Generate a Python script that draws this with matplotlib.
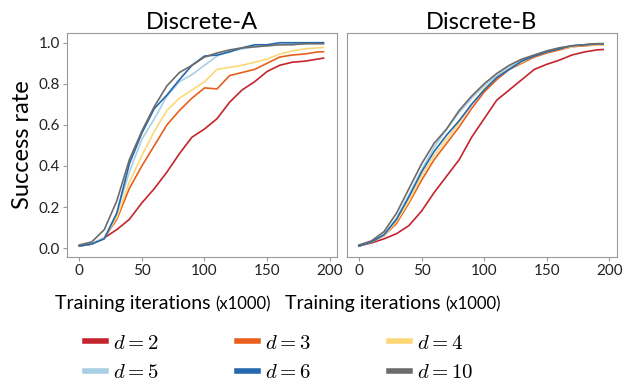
import matplotlib
matplotlib.use("Agg")
import matplotlib.pyplot as plt
from matplotlib.lines import Line2D

plt.rcParams['font.family'] = ['Lato', 'DejaVu Sans']
plt.rcParams['mathtext.fontset'] = 'cm'

iters = [0, 10, 20, 30, 40, 50, 60, 70, 80, 90, 100, 110, 120, 130, 140, 150, 160, 170, 180, 190, 195]
labels = ['$d=2$', '$d=3$', '$d=4$', '$d=5$', '$d=6$', '$d=10$']
colors = ['#c4242c', '#e8601c', '#fdd877', '#a9cfe5', '#2468ad', '#6b6b6b']

# Discrete-A
a_d2 = [0.01, 0.02, 0.05, 0.09, 0.14, 0.22, 0.29, 0.37, 0.46, 0.54, 0.58, 0.63, 0.71, 0.77, 0.81, 0.86, 0.89, 0.905, 0.91, 0.92, 0.925]
a_d3 = [0.01, 0.02, 0.05, 0.14, 0.29, 0.40, 0.50, 0.60, 0.67, 0.73, 0.78, 0.775, 0.84, 0.855, 0.87, 0.90, 0.93, 0.94, 0.945, 0.955, 0.956]
a_d4 = [0.01, 0.02, 0.05, 0.15, 0.32, 0.45, 0.57, 0.67, 0.73, 0.77, 0.81, 0.87, 0.88, 0.89, 0.905, 0.92, 0.945, 0.96, 0.97, 0.975, 0.977]
a_d5 = [0.01, 0.02, 0.05, 0.17, 0.37, 0.53, 0.63, 0.74, 0.81, 0.845, 0.89, 0.935, 0.96, 0.97, 0.98, 0.985, 0.99, 0.995, 0.995, 1.0, 1.0]
a_d6 = [0.01, 0.02, 0.045, 0.17, 0.41, 0.56, 0.68, 0.745, 0.82, 0.89, 0.935, 0.94, 0.955, 0.975, 0.99, 0.99, 1.0, 1.0, 1.0, 1.0, 1.0]
a_d10 = [0.015, 0.03, 0.09, 0.23, 0.43, 0.57, 0.69, 0.79, 0.855, 0.89, 0.93, 0.95, 0.965, 0.975, 0.98, 0.985, 0.99, 0.99, 0.995, 0.995, 0.995]

# Discrete-B
b_d2 = [0.01, 0.025, 0.045, 0.07, 0.11, 0.18, 0.27, 0.35, 0.43, 0.54, 0.63, 0.72, 0.77, 0.82, 0.87, 0.895, 0.915, 0.94, 0.955, 0.965, 0.967]
b_d3 = [0.01, 0.03, 0.06, 0.12, 0.22, 0.33, 0.43, 0.51, 0.59, 0.68, 0.76, 0.82, 0.87, 0.90, 0.93, 0.95, 0.965, 0.98, 0.985, 0.99, 0.99]
b_d4 = [0.01, 0.03, 0.06, 0.13, 0.23, 0.35, 0.45, 0.53, 0.61, 0.70, 0.775, 0.83, 0.875, 0.905, 0.935, 0.955, 0.97, 0.98, 0.99, 0.99, 0.99]
b_d5 = [0.01, 0.03, 0.065, 0.145, 0.26, 0.38, 0.49, 0.58, 0.66, 0.73, 0.79, 0.84, 0.88, 0.915, 0.94, 0.96, 0.975, 0.985, 0.99, 0.995, 0.995]
b_d6 = [0.01, 0.03, 0.065, 0.14, 0.25, 0.37, 0.47, 0.55, 0.62, 0.70, 0.77, 0.83, 0.87, 0.91, 0.935, 0.955, 0.97, 0.985, 0.99, 0.995, 0.995]
b_d10 = [0.015, 0.035, 0.08, 0.17, 0.29, 0.41, 0.51, 0.58, 0.67, 0.74, 0.80, 0.85, 0.89, 0.92, 0.94, 0.96, 0.975, 0.985, 0.99, 0.995, 0.995]

panels = [('Discrete-A', [a_d2, a_d3, a_d4, a_d5, a_d6, a_d10]),
          ('Discrete-B', [b_d2, b_d3, b_d4, b_d5, b_d6, b_d10])]

fig = plt.figure(figsize=(6.4, 3.89), dpi=100)
ax1 = fig.add_axes([0.105, 0.339, 0.422, 0.576])
ax2 = fig.add_axes([0.542, 0.339, 0.422, 0.576])

for ax, (title, series) in zip([ax1, ax2], panels):
    for ys, c in zip(series, colors):
        ax.plot(iters, ys, color=c, lw=1.2)
    ax.set_xlim(-9.6, 206)
    ax.set_ylim(-0.044, 1.047)
    ax.set_xticks([0, 50, 100, 150, 200])
    ax.set_title(title, fontsize=17, pad=3)
    for sp in ax.spines.values():
        sp.set_color('#9a9a9a')
    ax.tick_params(colors='#9a9a9a', labelcolor='#222222', labelsize=11, length=3, pad=2)

ax1.set_yticks([0.0, 0.2, 0.4, 0.6, 0.8, 1.0])
ax1.set_ylabel('Success rate', fontsize=17, labelpad=4)
ax2.set_yticks([])

# x labels: big text + smaller unit text
for x0 in [55, 285]:
    fig.text(x0 / 640, 1 - 309 / 389, 'Training iterations', fontsize=14, va='baseline', ha='left')
    fig.text((x0 + 160) / 640, 1 - 309 / 389, '(x1000)', fontsize=12, va='baseline', ha='left')

# legend filled column by column -> reorder so rows read d=2,3,4 / d=5,6,10
order = [0, 3, 1, 4, 2, 5]
handles = [Line2D([], [], color=colors[i], lw=4) for i in order]
fig.legend(handles, [labels[i] for i in order], ncol=3, loc='upper left',
           bbox_to_anchor=(66 / 640, 1 - 314 / 389),
           frameon=False, fontsize=15, handlelength=1.0, columnspacing=3.75,
           labelspacing=0.45, handletextpad=0.35)

fig.savefig('out.png', dpi=100)
